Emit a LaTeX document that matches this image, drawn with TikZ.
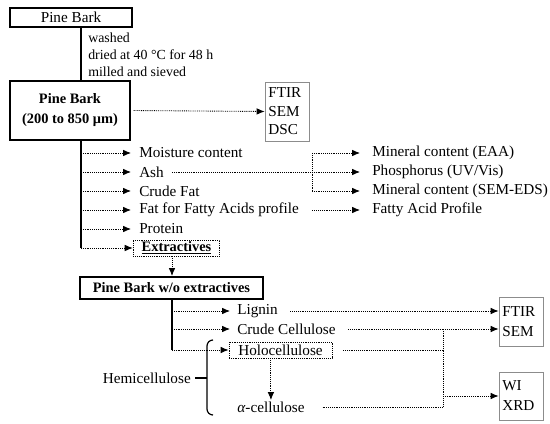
\documentclass[tikz,border=0pt]{standalone}
\usepackage{fontspec}
\setmainfont{Liberation Serif}
\usetikzlibrary{arrows.meta}
\begin{document}
\begin{tikzpicture}[x=0.75pt,y=-0.75pt,
  every node/.style={font=\fontsize{11.4}{13}\selectfont},
  sline/.style={line width=0.9pt},
  dots/.style={line width=0.65pt, dash pattern=on 0.65pt off 0.75pt},
  arr/.style={dots, -{Latex[length=6pt,width=5pt]}},
  topbox/.style={draw, line width=1.1pt, minimum width=91.5pt, minimum height=14.25pt, inner sep=0pt},
  bigbox/.style={draw, line width=1.5pt, inner sep=0pt, align=center, font=\fontsize{10.8}{15}\selectfont\bfseries},
  lbl/.style={anchor=west, inner sep=0pt, font=\fontsize{10.4}{12}\selectfont},
  item/.style={anchor=west, inner xsep=6pt, inner ysep=1pt},
  ritem/.style={anchor=west, inner xsep=9pt, inner ysep=1pt},
  bitem/.style={anchor=west, inner xsep=5.25pt, inner ysep=1pt},
  dotbox/.style={draw, dots, inner sep=0pt},
  gbox/.style={draw=black!45, line width=0.6pt, minimum width=33pt, text width=28pt, align=left, inner xsep=2.5pt, inner ysep=0pt}
]
\useasboundingbox (0,0) rectangle (550,424);
\coordinate (spine) at (81,0);
\coordinate (rspine) at (312,0);
\coordinate (bspine) at (172,0);
\coordinate (cspine) at (443,0);

% top
\node[topbox] (pb1) at (71,17.5) {Pine Bark};
\node[lbl] (l1) at (88,38) {washed};
\node[lbl] (l2) at (88,55) {dried at 40 °C for 48 h};
\node[lbl] (l3) at (88,72) {milled and sieved};
\node[bigbox, minimum width=90pt, minimum height=44.25pt] (pb2) at (70,110.5) {Pine Bark\\(200 to 850 μm)};
\node[gbox, minimum height=44.25pt, font=\fontsize{11.4}{13.9}\selectfont] (an1) at (287,111.5) {FTIR\\SEM\\DSC};
\draw[sline] (pb1.south -| spine) -- (pb2.north -| spine);
\draw[arr, shorten <=2pt] (pb2.east) -- (an1.west);

% analyses
\node[item] (moist) at (131,153) {Moisture content};
\node[item] (ash) at (131,172) {Ash};
\node[item] (cfat) at (131,191) {Crude Fat};
\node[item] (ffat) at (131,210) {Fat for Fatty Acids profile};
\node[item] (prot) at (131,229) {Protein};
\node[dotbox, minimum width=65pt, minimum height=12pt, font=\fontsize{10.8}{12}\selectfont\bfseries] (extr) at (176.5,248) {\underline{Extractives}};
\draw[sline] (pb2.south -| spine) -- (extr.west -| spine);
\foreach \n in {moist,ash,cfat,ffat,prot,extr} \draw[arr] (\n.west -| spine) -- (\n.west);

\node[ritem] (min1) at (360,153) {Mineral content (EAA)};
\node[ritem] (phos) at (360,172) {Phosphorus (UV/Vis)};
\node[ritem] (min2) at (360,191) {Mineral content (SEM-EDS)};
\node[ritem] (fap) at (360,210) {Fatty Acid Profile};
\draw[dots] (ash.east) -- (ash.east -| rspine);
\draw[dots] (min1.west -| rspine) -- (min2.west -| rspine);
\foreach \n in {min1,phos,min2} \draw[arr] (\n.west -| rspine) -- (\n.west);
\draw[arr, shorten <=4pt] (ffat.east) -- (fap.west);

% bottom
\node[bigbox, minimum width=137.25pt, minimum height=16.5pt] (pb3) at (171.5,288) {Pine Bark w/o extractives};
\draw[arr] (extr.south -| bspine) -- (pb3.north -| bspine);
\node[bitem] (lig) at (230,311) {Lignin};
\node[bitem] (cc) at (230,329) {Crude Cellulose};
\node[dotbox, minimum width=77.25pt, minimum height=12pt] (holo) at (280.5,350) {Holocellulose};
\node[bitem] (alpha) at (230,407) {\textit{α}-cellulose};
\draw[sline] (pb3.south -| bspine) -- (holo.west -| bspine);
\foreach \n in {lig,cc,holo} \draw[arr] (\n.west -| bspine) -- (\n.west);

\node[gbox, minimum height=36.75pt, font=\fontsize{11.4}{15}\selectfont] (an2) at (521,321.5) {FTIR\\SEM};
\node[gbox, minimum height=36pt, font=\fontsize{11.4}{15}\selectfont] (an3) at (521,396) {WI\\XRD};
\draw[arr, shorten <=4pt] (lig.east) -- (lig.east -| an2.west);
\draw[arr, shorten <=4pt] (cc.east) -- (cc.east -| an2.west);
\draw[dots, shorten <=8pt] (holo.east) -- (holo.east -| cspine);
\draw[dots] (cc.east -| cspine) -- (alpha.east -| cspine);
\draw[dots, shorten <=8pt] (alpha.east) -- (alpha.east -| cspine);
\draw[arr] (an3.west -| cspine) -- (an3.west);
\draw[arr] (holo.south -| alpha.north) -- (alpha.north);

% hemicellulose bracket
\coordinate (brt) at (213,340);
\coordinate (brb) at (213,415);
\coordinate (brm) at (207,378);
\node[anchor=east, inner xsep=3pt] (hemi) at (195,378) {Hemicellulose};
\draw[sline] (brt) to[out=180,in=90] (207,346) -- (207,409) to[out=-90,in=180] (brb);
\draw[sline] (hemi.east) -- (brm);
\end{tikzpicture}
\end{document}
